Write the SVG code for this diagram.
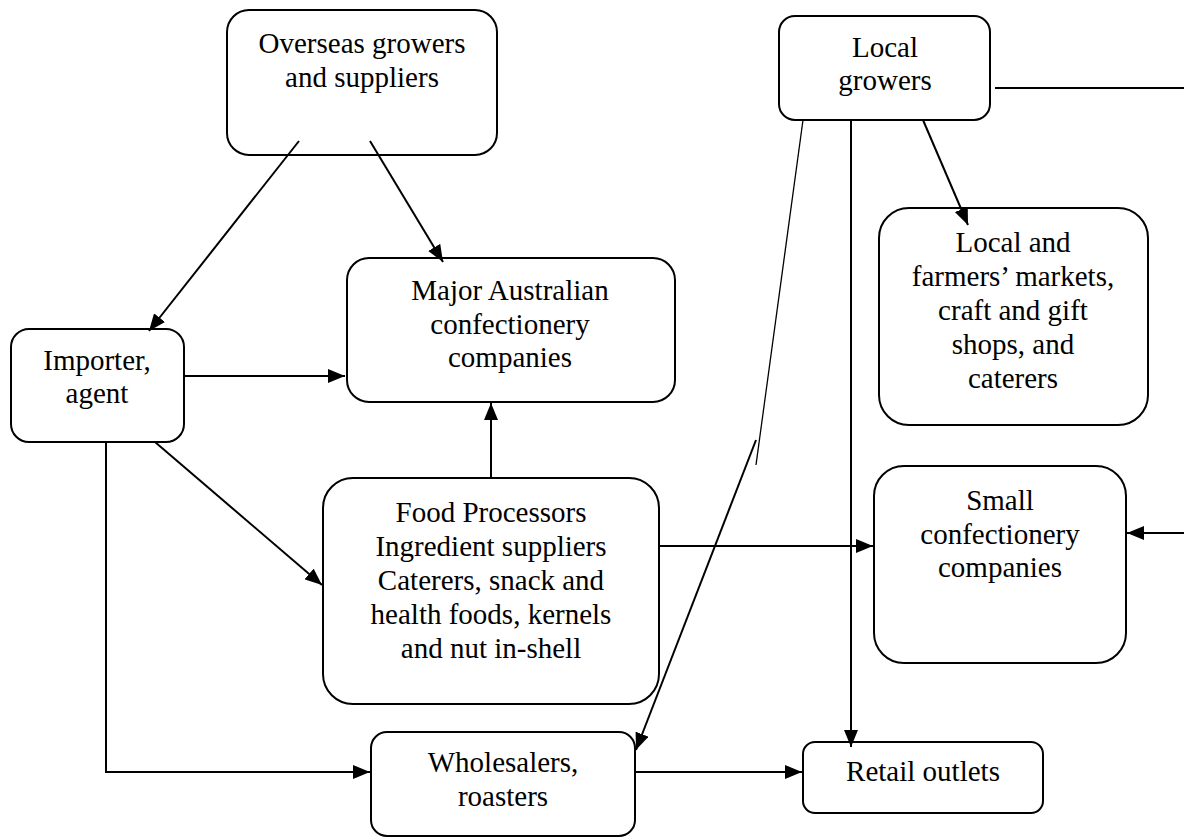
<svg xmlns="http://www.w3.org/2000/svg" width="1184" height="838" viewBox="0 0 1184 838">
<style>
.box{fill:#fff;stroke:#000;stroke-width:2}
.t{font-family:'Liberation Serif','Times New Roman',Times,'Nimbus Roman','DejaVu Serif',serif;font-size:29px;fill:#000;text-anchor:middle}
.c{fill:none;stroke:#000;stroke-width:2}
.thin{fill:none;stroke:#000;stroke-width:1.3}
</style>
<defs>
<marker id="ah" markerUnits="userSpaceOnUse" markerWidth="18" markerHeight="14" refX="17" refY="7" orient="auto">
<path d="M0,0 L17,7 L0,14 Z" fill="#000"/>
</marker>
</defs>
<rect width="1184" height="838" fill="#fff"/>
<g id="n-overseas"><rect class="box" x="227" y="10" width="270" height="145" rx="22"/>
<text class="t" x="362" y="53">Overseas growers</text><text class="t" x="362" y="87">and suppliers</text></g>
<g id="n-major"><rect class="box" x="347" y="258" width="328" height="144" rx="22"/>
<text class="t" x="510" y="300">Major Australian</text><text class="t" x="510" y="334">confectionery</text><text class="t" x="510" y="367">companies</text></g>
<g id="n-importer"><rect class="box" x="11" y="329" width="173" height="113" rx="18"/>
<text class="t" x="97" y="370">Importer,</text><text class="t" x="97" y="403">agent</text></g>
<g id="n-food"><rect class="box" x="323" y="478" width="336" height="226" rx="30"/>
<text class="t" x="491" y="522">Food Processors</text><text class="t" x="491" y="556">Ingredient suppliers</text><text class="t" x="491" y="590">Caterers, snack and</text><text class="t" x="491" y="624">health foods, kernels</text><text class="t" x="491" y="658">and nut in-shell</text></g>
<g id="n-wholesalers"><rect class="box" x="371" y="732" width="264" height="104" rx="16"/>
<text class="t" x="503" y="772">Wholesalers,</text><text class="t" x="503" y="806">roasters</text></g>
<g id="n-retail"><rect class="box" x="803" y="742" width="240" height="71" rx="12"/>
<text class="t" x="923" y="781">Retail outlets</text></g>
<g id="n-small"><rect class="box" x="874" y="466" width="252" height="197" rx="30"/>
<text class="t" x="1000" y="510">Small</text><text class="t" x="1000" y="544">confectionery</text><text class="t" x="1000" y="577">companies</text></g>
<g id="n-local"><rect class="box" x="779" y="16" width="211" height="104" rx="16"/>
<text class="t" x="885" y="57">Local</text><text class="t" x="885" y="90">growers</text></g>
<g id="n-farmers"><rect class="box" x="879" y="208" width="269" height="217" rx="30"/>
<text class="t" x="1013" y="252">Local and</text><text class="t" x="1013" y="286">farmers’ markets,</text><text class="t" x="1013" y="320">craft and gift</text><text class="t" x="1013" y="354">shops, and</text><text class="t" x="1013" y="388">caterers</text></g>
<g id="connectors">
<line class="c" x1="299" y1="141" x2="149" y2="331" marker-end="url(#ah)"/>
<line class="c" x1="370" y1="141" x2="443" y2="262" marker-end="url(#ah)"/>
<line class="c" x1="184" y1="376" x2="345" y2="376" marker-end="url(#ah)"/>
<line class="c" x1="491" y1="478" x2="491" y2="403" marker-end="url(#ah)"/>
<line class="c" x1="155" y1="442" x2="322" y2="585" marker-end="url(#ah)"/>
<polyline class="c" points="106,442 106,772 370,772" marker-end="url(#ah)"/>
<line class="c" x1="635" y1="772" x2="802" y2="772" marker-end="url(#ah)"/>
<line class="c" x1="659" y1="546" x2="873" y2="546" marker-end="url(#ah)"/>
<line class="c" x1="851" y1="120" x2="851" y2="747" marker-end="url(#ah)"/>
<line class="c" x1="923" y1="120" x2="968" y2="225" marker-end="url(#ah)"/>
<line class="c" x1="995" y1="88" x2="1184" y2="88"/>
<line class="c" x1="1184" y1="533" x2="1127" y2="533" marker-end="url(#ah)"/>
<line class="thin" x1="803" y1="120" x2="756" y2="465"/>
<line class="c" x1="756" y1="440" x2="636" y2="750" marker-end="url(#ah)"/>
</g>
</svg>
